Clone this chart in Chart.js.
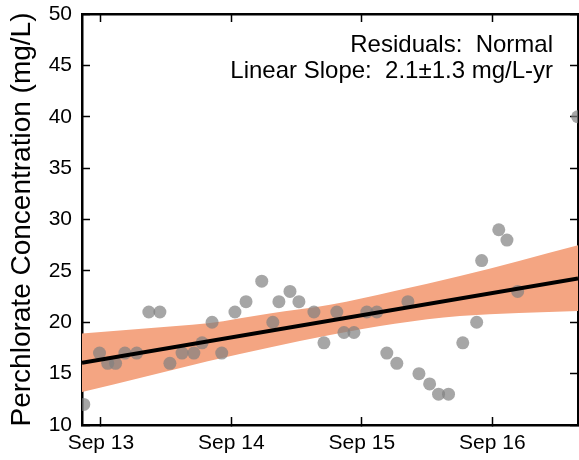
<!DOCTYPE html>
<html>
<head>
<meta charset="utf-8">
<script src="https://cdn.jsdelivr.net/npm/chart.js@4/dist/chart.umd.min.js"></script>
<style>
  html, body { margin: 0; padding: 0; background: #fff; }
  #wrap { width: 579px; height: 460px; }
</style>
</head>
<body>
<div id="wrap"><canvas id="myChart" width="579" height="460"></canvas></div>
<script>
// sample dates and perchlorate values (mg/L)
const sampleDates = [
  "2013-07-15", "2013-08-28", "2013-09-20", "2013-10-12", "2013-11-07", "2013-12-10",
  "2014-01-13", "2014-02-13", "2014-03-13", "2014-04-16", "2014-05-19", "2014-06-11",
  "2014-07-09", "2014-08-05", "2014-09-11", "2014-10-12", "2014-11-25", "2014-12-26",
  "2015-01-12", "2015-02-12", "2015-03-09", "2015-04-20", "2015-05-18", "2015-06-23",
  "2015-07-13", "2015-08-10", "2015-09-15", "2015-10-13", "2015-11-10", "2015-12-08",
  "2016-01-08", "2016-02-08", "2016-03-09", "2016-04-03", "2016-05-01", "2016-06-10",
  "2016-07-19", "2016-08-02", "2016-09-19", "2016-10-12", "2016-11-11", "2017-04-28"
];
const sampleValues = [
  12, 17, 16, 16, 17, 17,
  21, 21, 16, 17, 17, 18,
  20, 17, 21, 22, 24, 20,
  22, 23, 22, 21, 18, 21,
  19, 19, 21, 21, 17, 16,
  22, 15, 14, 13, 13, 18,
  20, 26, 29, 28, 23, 40
];

// fitted trend and its band
const trendDates = ["2013-07-10", "2017-04-29"];
const trendValues = [16.06, 24.27];
const bandDates = ["2013-07-10", "2014-01-02", "2014-06-27", "2014-12-17", "2015-06-04", "2015-12-02", "2016-06-02", "2017-04-29"];
const bandUpper = [18.9, 19.4, 19.9, 20.85, 21.7, 23.05, 24.5, 27.5];
const bandLower = [13.2, 14.7, 16.2, 17.55, 18.75, 19.85, 20.6, 21.1];

// axes
const xRange = ["2013-07-10", "2017-04-29"];
const tickDates = ["2013-09-01", "2014-09-01", "2015-09-01", "2016-09-01"];
const tickLabels = ["Sep 13", "Sep 14", "Sep 15", "Sep 16"];
const yTicks = [10, 15, 20, 25, 30, 35, 40, 45, 50];

const noteLines = ["Residuals:  Normal", "Linear Slope:  2.1\u00b11.3 mg/L-yr"];

function toYear(s) {
  const d = new Date(s + "T00:00:00Z");
  const y = d.getUTCFullYear();
  const a = Date.UTC(y, 0, 1), b = Date.UTC(y + 1, 0, 1);
  return y + (d.getTime() - a) / (b - a);
}
function pairs(dates, vals) {
  return dates.map((d, i) => ({ x: toYear(d), y: vals[i] }));
}

const FONT = "'Liberation Sans', Arial, sans-serif";
Chart.defaults.font.family = FONT;
Chart.defaults.color = "#000";

const xTickVals = tickDates.map(toYear);
const xMin = toYear(xRange[0]), xMax = toYear(xRange[1]);

const notes = {
  id: "notes",
  afterDraw(chart) {
    const ctx = chart.ctx;
    ctx.save();
    ctx.fillStyle = "#000";
    ctx.font = "24px " + FONT;
    ctx.textAlign = "right";
    ctx.textBaseline = "alphabetic";
    ctx.fillText(noteLines[0], 553, 52);
    ctx.fillText(noteLines[1], 553, 78);
    ctx.restore();
  }
};

// fixed box sizes, no extra label padding
function fixBox(w, h) {
  return (s) => {
    if (w !== null) s.width = w;
    if (h !== null) s.height = h;
    s.paddingTop = 0; s.paddingBottom = 0; s.paddingLeft = 0; s.paddingRight = 0;
  };
}

const frame = { display: true, color: "#000", width: 2.5 };
const tickGrid = { drawOnChartArea: false, drawTicks: true, tickLength: -8, tickWidth: 1.5, tickColor: "#000" };

new Chart(document.getElementById("myChart").getContext("2d"), {
  type: "scatter",
  data: {
    datasets: [
      {
        type: "line",
        data: pairs(trendDates, trendValues),
        borderColor: "#000",
        borderWidth: 4,
        pointRadius: 0,
        fill: false,
        order: 0
      },
      {
        data: pairs(sampleDates, sampleValues),
        backgroundColor: "rgba(128,128,128,0.7)",
        borderWidth: 0,
        pointRadius: 6.5,
        clip: 0,
        order: 1
      },
      {
        type: "line",
        data: pairs(bandDates, bandUpper),
        borderWidth: 0,
        borderColor: "rgba(0,0,0,0)",
        backgroundColor: "#f4a582",
        pointRadius: 0,
        cubicInterpolationMode: "monotone",
        fill: "+1",
        order: 2
      },
      {
        type: "line",
        data: pairs(bandDates, bandLower),
        borderWidth: 0,
        borderColor: "rgba(0,0,0,0)",
        pointRadius: 0,
        cubicInterpolationMode: "monotone",
        fill: false,
        order: 3
      }
    ]
  },
  options: {
    responsive: false,
    animation: false,
    layout: { autoPadding: false, padding: { left: 0, right: 1, top: 0, bottom: 0 } },
    plugins: { legend: { display: false }, tooltip: { enabled: false } },
    scales: {
      x: {
        type: "linear",
        position: "bottom",
        min: xMin,
        max: xMax,
        afterBuildTicks: (s) => { s.ticks = xTickVals.map(v => ({ value: v })); },
        afterFit: fixBox(null, 35),
        border: frame,
        grid: tickGrid,
        ticks: {
          padding: 14,
          maxRotation: 0,
          autoSkip: false,
          font: { size: 21 },
          callback: (v) => tickLabels[xTickVals.indexOf(v)]
        }
      },
      x2: {
        type: "linear",
        position: "top",
        min: xMin,
        max: xMax,
        afterBuildTicks: (s) => { s.ticks = xTickVals.map(v => ({ value: v })); },
        afterFit: fixBox(null, 14),
        border: frame,
        grid: tickGrid,
        ticks: { display: false }
      },
      y: {
        position: "left",
        min: 10,
        max: 50,
        afterBuildTicks: (s) => { s.ticks = yTicks.map(v => ({ value: v })); },
        afterFit: fixBox(82, null),
        border: frame,
        grid: tickGrid,
        ticks: { padding: 18, font: { size: 21 } },
        title: {
          display: true,
          text: "Perchlorate Concentration (mg/L)",
          font: { size: 28 },
          padding: { top: 5, bottom: 0 }
        }
      },
      y2: {
        position: "right",
        min: 10,
        max: 50,
        afterBuildTicks: (s) => { s.ticks = yTicks.map(v => ({ value: v })); },
        afterFit: fixBox(0, null),
        border: frame,
        grid: tickGrid,
        ticks: { display: false }
      }
    }
  },
  plugins: [notes]
});
</script>
</body>
</html>
